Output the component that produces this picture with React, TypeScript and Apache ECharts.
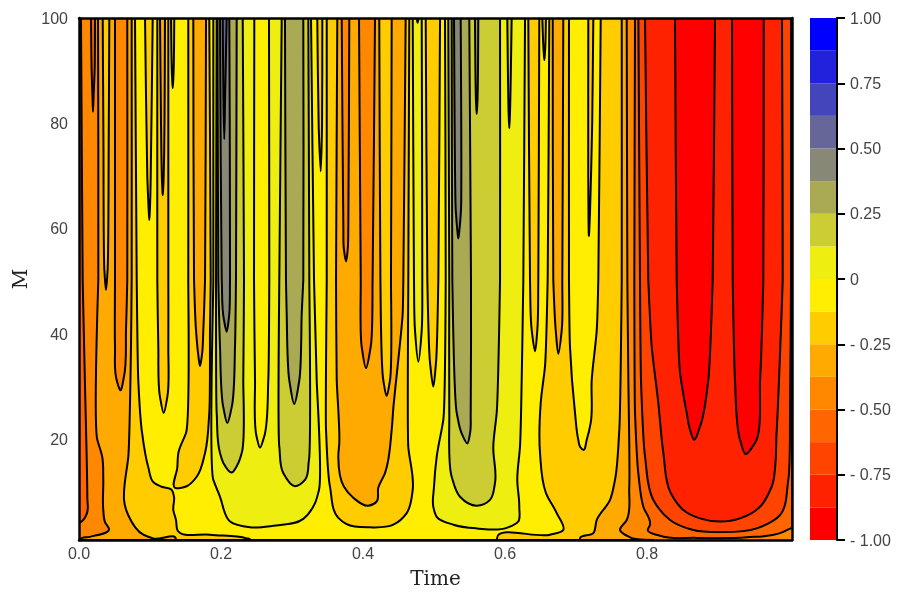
import React, { useEffect, useRef } from 'react';
import * as echarts from 'echarts';

type Pt = number[];

// colour bar, lowest band first
const bandColors = [
  '#ff0000', '#ff2200', '#ff4400', '#ff6600', '#ff8800', '#ffaa00', '#ffcc00', '#ffee00',
  '#eeee11', '#cccc33', '#aaaa55', '#888877', '#666699', '#4444bb', '#2222dd', '#0000ff',
];
const bandEdges = [-1, -0.875, -0.75, -0.625, -0.5, -0.375, -0.25, -0.125, 0, 0.125, 0.25, 0.375, 0.5, 0.625, 0.75, 0.875, 1];
const barLabels: Record<string, string> = {
  '1': '1.00', '0.75': '0.75', '0.5': '0.50', '0.25': '0.25', '0': '0',
  '-0.25': '- 0.25', '-0.5': '- 0.50', '-0.75': '- 0.75', '-1': '- 1.00',
};
const xTicks = [0, 0.2, 0.4, 0.6, 0.8];
const yTicks = [20, 40, 60, 80, 100];
const xMax = 1.0042;

// contour lines, as [Time, M]
const leftCorner: Pt[] = [[0, 100]];
const edgeSliver: Pt[] = [[.0028, 100], [.0052, 50.3], [.0085, 30], [.0117, 9.2], [.0113, 6.1], [.006, 4.8], [0, 4.2]];
const spikeA: Pt[] = [[.0169, 100], [.0178, 90], [.019, 85], [.0197, 82.2], [.0205, 85], [.022, 90], [.0225, 100]];
const band5Left: Pt[] = [[.0268, 100], [.0272, 50.3], [.0258, 44], [.0258, 20], [.0328, 16.7], [.0342, 12.4], [.0342, 6.7], [.0366, 4.4], [.0423, 3.1], [.0155, 1.6], [.0024, 1.1], [.0024, 1]];
const band5Right: Pt[] = [[.8085, 1], [.7761, 1.5], [.762, 2.9], [.7714, 4.8], [.775, 11.1], [.7737, 31.3], [.7723, 50.3], [.7714, 100]];
const spikeB: Pt[] = [[.0334, 100], [.0345, 75], [.0358, 52], [.038, 48.4], [.0402, 52], [.0418, 75], [.0427, 100]];
const tongueC: Pt[] = [[.0507, 100], [.0507, 50.3], [.0507, 37.8], [.0531, 31.3], [.0582, 29.4], [.0634, 32], [.0662, 40.8], [.068, 50.3], [.068, 100]];
const band6Left: Pt[] = [[.0742, 100], [.0742, 50.3], [.0732, 37.6], [.0694, 16.7], [.0634, 9.9], [.0634, 8.6], [.0694, 5.7], [.0906, 2], [.1046, 1.3], [.1366, 1.1], [.1366, 1]];
const band6Right: Pt[] = [[.7056, 1], [.7056, 1.3], [.7244, 2.3], [.7292, 4.8], [.7479, 8.6], [.7549, 12.4], [.761, 21.9], [.7644, 50.3], [.7644, 100]];
const band7Left: Pt[] = [[.0789, 100], [.0813, 50.3], [.0835, 31.3], [.0883, 21.9], [.0976, 14.8], [.1046, 12], [.1165, 11.1], [.1306, 10.5], [.1338, 9.2], [.1328, 6.7], [.1366, 4.8], [.1385, 2.9], [.1845, 2], [.2362, 1.3], [.2408, 1.1], [.2408, 1]];
const band7Right: Pt[] = [[.5887, 1], [.5887, 1.3], [.6634, 2], [.6821, 2.9], [.6728, 6.1], [.6577, 9.9], [.6493, 17.5], [.6503, 27], [.6563, 33.9], [.6601, 50.3], [.6624, 100]];
const spikeD: Pt[] = [[.093, 100], [.0962, 69.8], [.0982, 63.5], [.099, 61.7], [.0998, 63.5], [.101, 69.8], [.1038, 100]];
const tongueE: Pt[] = [[.1103, 100], [.1103, 50.3], [.1117, 37.6], [.1141, 28.1], [.1193, 25.1], [.1244, 28.1], [.1258, 37.6], [.1258, 50.3], [.1258, 100]];
const spikeF: Pt[] = [[.1141, 100], [.1155, 80], [.1172, 68], [.1179, 66.4], [.1187, 68], [.1204, 80], [.1211, 100]];
const spikeG: Pt[] = [[.1296, 100], [.131, 89], [.132, 86.7], [.133, 89], [.1342, 100]];
const tongueH: Pt[] = [[.1539, 100], [.1539, 50.3], [.1507, 21.3], [.1399, 17.5], [.1385, 14.8], [.1352, 10.9], [.1517, 11.2], [.1658, 13], [.1775, 17.5], [.1835, 25.1], [.1845, 40.8], [.1855, 50.3], [.1835, 100]];
const tongueI: Pt[] = [[.161, 100], [.162, 50.3], [.1648, 40.8], [.168, 36.1], [.1704, 34], [.1732, 36.1], [.1751, 40.8], [.1775, 50.3], [.1789, 100]];
const band8A: Pt[] = [[.1892, 100], [.1892, 50.3], [.1892, 12.4], [.1986, 9.2], [.2127, 4.5], [.2408, 3.4], [.2737, 3.7], [.3159, 5], [.3324, 8], [.338, 10.5], [.3348, 31.3], [.331, 50.3], [.3268, 100]];
const band9A: Pt[] = [[.1939, 100], [.193, 50.3], [.1939, 25.1], [.1986, 17.5], [.2033, 15.6], [.2151, 13.8], [.2244, 15.6], [.2292, 17.5], [.2314, 31.3], [.2324, 50.3], [.2306, 100]];
const band10A: Pt[] = [[.195, 100], [.1962, 50.3], [.1986, 37.6], [.2032, 26.2], [.2089, 23.2], [.2151, 26.2], [.2197, 37.6], [.2211, 50.3], [.2221, 100]];
const band11A: Pt[] = [[.1986, 100], [.201, 50.3], [.2042, 42.7], [.208, 40.5], [.2108, 42.7], [.2127, 50.3], [.2117, 100]];
const band12A: Pt[] = [[.2024, 100], [.2034, 85], [.2046, 77], [.2058, 85], [.208, 100]];
const tongueJ: Pt[] = [[.2469, 100], [.2465, 50.3], [.2479, 31.3], [.2503, 20.5], [.2549, 18.5], [.2606, 20.5], [.2666, 31.3], [.268, 50.3], [.2676, 100]];
const band9B: Pt[] = [[.2855, 100], [.2821, 50.3], [.2821, 18.7], [.2877, 13.7], [.3042, 11.2], [.3183, 12.4], [.3239, 16.2], [.3244, 50.3], [.323, 100]];
const band10B: Pt[] = [[.2901, 100], [.2915, 50.3], [.2925, 44], [.2962, 31.3], [.3032, 26.8], [.3103, 31.3], [.3137, 44], [.3159, 50.3], [.3159, 100]];
const spikeK: Pt[] = [[.3356, 100], [.3376, 79.3], [.3404, 70.9], [.3423, 79.3], [.3427, 100]];
const band6Mid: Pt[] = [[.3489, 100], [.3489, 50.3], [.3479, 21.9], [.3535, 11.1], [.3652, 5.2], [.377, 4], [.4099, 3.4], [.4427, 3.9], [.4615, 6.1], [.47, 10.5], [.4638, 18.6], [.4638, 50.3], [.4652, 100]];
const band5Mid: Pt[] = [[.3638, 100], [.362, 50.3], [.363, 31.3], [.3666, 19.4], [.3652, 16.7], [.3732, 11.1], [.3863, 9], [.4075, 7.5], [.4193, 8.3], [.4215, 10.9], [.431, 13.7], [.4404, 21.9], [.4427, 26], [.4559, 44], [.4568, 50.3], [.4601, 100]];
const tongueL: Pt[] = [[.37, 100], [.3723, 60.4], [.3732, 56], [.3761, 53.8], [.3784, 56], [.3793, 60.4], [.3807, 100]];
const tongueM: Pt[] = [[.3944, 100], [.3968, 50.3], [.3982, 37.6], [.4042, 33.6], [.4108, 37.6], [.4135, 50.3], [.4169, 100]];
const tongueN: Pt[] = [[.4229, 100], [.4245, 50.3], [.4286, 31.3], [.4333, 28.3], [.438, 31.3], [.4394, 50.3], [.4404, 100]];
const tongueO: Pt[] = [[.47, 100], [.4718, 50.3], [.4732, 40.8], [.4779, 34.8], [.4827, 40.8], [.4835, 50.3], [.4827, 100]];
const nickP: Pt[] = [[.4755, 100], [.4769, 99.1], [.4783, 100]];
const tongueQ: Pt[] = [[.4883, 100], [.4906, 50.3], [.4944, 34.6], [.499, 30.1], [.5028, 34.6], [.5061, 50.3], [.5085, 100]];
const band8B: Pt[] = [[.5155, 100], [.5165, 50.3], [.5131, 23.8], [.5038, 16.8], [.5, 11.1], [.499, 7.3], [.5038, 5.4], [.5272, 3.9], [.5601, 3.2], [.6024, 3.3], [.6187, 4.5], [.6201, 7.3], [.6173, 12.4], [.6211, 18.7], [.6235, 31.3], [.6258, 50.3], [.6282, 100]];
const band9C: Pt[] = [[.5201, 100], [.5215, 50.3], [.5215, 25.1], [.5249, 13], [.5366, 9.2], [.5601, 7.5], [.5789, 8.6], [.5859, 11.8], [.5835, 18.7], [.5883, 25.1], [.593, 50.3], [.593, 100]];
const band10C: Pt[] = [[.5249, 100], [.5258, 50.3], [.532, 25.1], [.539, 21.2], [.5469, 19.3], [.5507, 21.2], [.5517, 25.1], [.5521, 50.3], [.5497, 100]];
const band11C: Pt[] = [[.5282, 100], [.5306, 63.6], [.5328, 59.8], [.5342, 58.2], [.5358, 59.8], [.538, 63.6], [.5376, 100]];
const spikeR: Pt[] = [[.5577, 100], [.5592, 84], [.5601, 81.8], [.5611, 84], [.5624, 100]];
const spikeS: Pt[] = [[.6032, 100], [.6051, 82], [.606, 79.1], [.607, 82], [.6094, 100]];
const tongueT: Pt[] = [[.6328, 100], [.6352, 50.3], [.6376, 40.8], [.6423, 36.8], [.6455, 40.8], [.6469, 50.3], [.6483, 100]];
const spikeU: Pt[] = [[.6525, 100], [.6545, 93.5], [.6554, 92], [.6563, 93.5], [.6577, 100]];
const tongueV: Pt[] = [[.6672, 100], [.668, 50.3], [.6714, 40.8], [.6751, 36.3], [.6799, 40.8], [.6807, 50.3], [.6821, 100]];
const tongueW: Pt[] = [[.6901, 100], [.6901, 50.3], [.6915, 37.7], [.6986, 25.1], [.7032, 20], [.7056, 18.7], [.7103, 18.1], [.7151, 20], [.7207, 23.2], [.7221, 31.3], [.7292, 40.8], [.7314, 50.3], [.7348, 100]];
const spikeX: Pt[] = [[.7173, 100], [.7172, 70], [.7183, 58.8], [.7197, 63], [.7228, 80], [.7244, 100]];
const band3Right: Pt[] = [[.7831, 100], [.7821, 50.3], [.7831, 25.1], [.7877, 13.7], [.7948, 7.3], [.8042, 3.9], [.801, 2.9], [.8183, 1.8], [.87, 1.4], [.9404, 1.5], [.9873, 2.3], [1.0024, 3.2], [xMax, 3.3]];
const band2Right: Pt[] = [[.7878, 100], [.7901, 50.3], [.7915, 31.3], [.7972, 16.8], [.8089, 8.6], [.8324, 4.8], [.8652, 2.9], [.9028, 2.5], [.9545, 3.2], [.9873, 5.7], [.999, 12.4], [1.0014, 25.1], [1.0028, 50.3], [1.0028, 100]];
const band1Right: Pt[] = [[.7972, 100], [.8018, 50.3], [.8066, 37.7], [.8159, 27], [.823, 17.5], [.8334, 9.9], [.8511, 6.7], [.8746, 5.1], [.9028, 4.5], [.931, 5.1], [.9592, 7.3], [.9756, 11.1], [.9827, 21.9], [.9911, 50.3], [.9901, 100]];
const redA: Pt[] = [[.8394, 100], [.8418, 50.3], [.8465, 32.7], [.8559, 25.1], [.8606, 21.9], [.8662, 20], [.8746, 22.5], [.8863, 31.3], [.8925, 50.3], [.8958, 100]];
const redB: Pt[] = [[.9197, 100], [.9207, 50.3], [.9239, 31.3], [.931, 20], [.939, 17.3], [.9521, 19.4], [.9592, 31.3], [.9638, 50.3], [.9644, 100]];
const topRightCorner: Pt[] = [[xMax, 100]];

// painted in this order, outermost first: [band index, ...curves closing the region]
const regions: [number, ...Pt[][]][] = [
  [3, leftCorner, edgeSliver], [3, spikeA],
  [5, band5Left, band5Right], [6, spikeB], [4, tongueC],
  [6, band6Left, band6Right],
  [7, band7Left, band7Right],
  [6, spikeD], [6, tongueE], [5, spikeF], [6, spikeG], [6, tongueH], [5, tongueI],
  [8, band8A], [7, tongueJ], [9, band9A], [10, band10A], [11, band11A], [12, band12A],
  [9, band9B], [10, band10B], [6, spikeK],
  [6, band6Mid], [5, band5Mid], [4, tongueL], [4, tongueM], [6, tongueN],
  [8, tongueO], [7, nickP], [6, tongueQ],
  [8, band8B], [9, band9C], [10, band10C], [11, band11C], [10, spikeR], [9, spikeS],
  [6, tongueT], [6, spikeU], [5, tongueV], [7, tongueW], [6, spikeX],
  [3, band3Right, topRightCorner], [2, band2Right], [1, band1Right], [0, redA], [0, redB],
];

// rounds the knots of one curve of pixel points, long runs stay straight
const curveToPath = (p: number[][], first: boolean) => {
  let d = `${first ? 'M' : 'L'}${p[0][0]} ${p[0][1]}`;
  const dist = (a: number[], b: number[]) => Math.hypot(b[0] - a[0], b[1] - a[1]) || 1e-6;
  const tangent = (i: number) => {
    if (i === 0 || i === p.length - 1) {
      const a = p[i === 0 ? 0 : i - 1];
      const b = p[i === 0 ? 1 : i];
      const l = dist(a, b);
      return [(b[0] - a[0]) / l, (b[1] - a[1]) / l];
    }
    const d1 = dist(p[i - 1], p[i]);
    const d2 = dist(p[i], p[i + 1]);
    return [0, 1].map(k =>
      (((p[i][k] - p[i - 1][k]) / d1) * d2 + ((p[i + 1][k] - p[i][k]) / d2) * d1) / (d1 + d2));
  };
  for (let i = 0; i < p.length - 1; i++) {
    const l = Math.min(dist(p[i], p[i + 1]) / 3, 14);
    const t0 = tangent(i);
    const t1 = tangent(i + 1);
    d += `C${p[i][0] + t0[0] * l} ${p[i][1] + t0[1] * l} ${p[i + 1][0] - t1[0] * l} ${p[i + 1][1] - t1[1] * l} ${p[i + 1][0]} ${p[i + 1][1]}`;
  }
  return d;
};

const App: React.FC = () => {
  const chartRef = useRef<HTMLDivElement>(null);

  useEffect(() => {
    if (!chartRef.current) return;
    const chart = echarts.init(chartRef.current, undefined, { renderer: 'svg' });
    const tickFont = { color: '#444444', fontFamily: 'Liberation Sans', fontSize: 16 };
    const frameLine = { show: true, onZero: false, lineStyle: { color: '#000', width: 2.5 } };
    const titleFont = { color: '#222222', fontFamily: 'DejaVu Serif', fontSize: 20 };

    chart.setOption({
      animation: false,
      grid: [
        { left: 79, right: 108, top: 18, bottom: 60, show: true, backgroundColor: bandColors[4], borderWidth: 0 },
        { left: 810, width: 27, top: 18, bottom: 60 },
      ],
      xAxis: [
        {
          type: 'value', gridIndex: 0, min: 0, max: xMax, z: 10, splitLine: { show: false }, axisTick: { show: false },
          axisLine: frameLine, name: 'Time', nameLocation: 'middle', nameGap: 28, nameTextStyle: titleFont,
          axisLabel: { ...tickFont, margin: 5, customValues: xTicks, formatter: (v: number) => v.toFixed(1) },
        },
        {
          type: 'value', gridIndex: 0, position: 'top', min: 0, max: xMax, z: 10, splitLine: { show: false },
          axisTick: { show: false }, axisLabel: { show: false }, axisLine: frameLine,
        },
        {
          type: 'value', gridIndex: 1, min: 0, max: 1, show: false,
        },
      ],
      yAxis: [
        {
          type: 'value', gridIndex: 0, min: 1, max: 100, z: 10, splitLine: { show: false }, axisTick: { show: false },
          axisLine: frameLine, name: 'M', nameLocation: 'middle', nameGap: 45, nameTextStyle: titleFont,
          axisLabel: { ...tickFont, margin: 11, customValues: yTicks },
        },
        {
          type: 'value', gridIndex: 0, position: 'right', min: 1, max: 100, z: 10, splitLine: { show: false },
          axisTick: { show: false }, axisLabel: { show: false }, axisLine: frameLine,
        },
        {
          type: 'value', gridIndex: 1, position: 'right', min: -1, max: 1, interval: 0.25, z: 10, splitLine: { show: false },
          axisLine: { show: true, onZero: false, lineStyle: { color: '#000', width: 2 } },
          axisTick: { show: true, length: 8, lineStyle: { color: '#000', width: 2 } },
          axisLabel: { ...tickFont, margin: 13, formatter: (v: number) => barLabels[String(v)] ?? '' },
        },
      ],
      series: [
        {
          type: 'custom',
          coordinateSystem: 'cartesian2d',
          xAxisIndex: 0,
          yAxisIndex: 0,
          clip: true,
          silent: true,
          data: regions.map((_, i) => [0, 100, i]),
          encode: { x: 0, y: 1 },
          renderItem: (params: any, api: any) => {
            const [band, ...curves] = regions[params.dataIndex];
            const pathData = curves
              .map((c, i) => curveToPath(c.map(pt => api.coord(pt)), i === 0))
              .join('') + 'Z';
            return {
              type: 'path',
              shape: { pathData },
              style: { fill: bandColors[band], stroke: '#000', lineWidth: 2, lineJoin: 'round' },
            };
          },
        },
        {
          type: 'custom',
          coordinateSystem: 'cartesian2d',
          xAxisIndex: 2,
          yAxisIndex: 2,
          silent: true,
          data: bandColors.map((_, i) => [0, bandEdges[i], bandEdges[i + 1], i]),
          encode: { x: 0, y: [1, 2] },
          renderItem: (params: any, api: any) => {
            const i = params.dataIndex;
            const low = api.coord([0, bandEdges[i]]);
            const high = api.coord([1, bandEdges[i + 1]]);
            return {
              type: 'rect',
              shape: { x: low[0], y: high[1], width: high[0] - low[0], height: low[1] - high[1] },
              style: { fill: bandColors[i] },
            };
          },
        },
      ],
    });

    return () => {
      chart.dispose();
    };
  }, []);

  return <div ref={chartRef} style={{ position: 'fixed', left: 0, top: 0, width: 900, height: 600 }} />;
};

export default App;
